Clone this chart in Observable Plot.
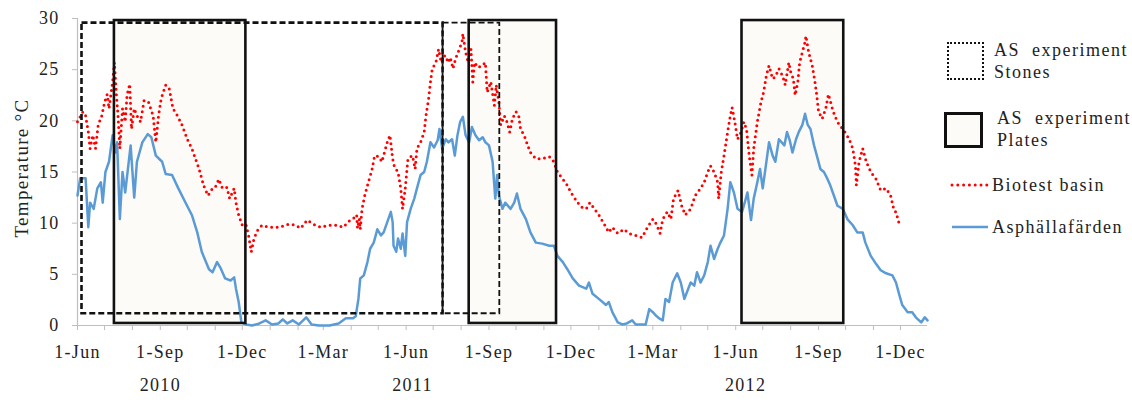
<!DOCTYPE html>
<html><head><meta charset="utf-8">
<script src="https://cdn.jsdelivr.net/npm/d3@7"></script>
<script src="https://cdn.jsdelivr.net/npm/@observablehq/plot@0.6"></script>
<style>
body{margin:0;background:#fff;}
#wrap{position:relative;width:1132px;height:404px;font-family:"Liberation Serif","Times New Roman",serif;color:#222;overflow:hidden;}
#chart svg text{letter-spacing:1.3px;}
.lt{position:absolute;font-size:18px;letter-spacing:1.5px;line-height:22px;white-space:nowrap;}
.box{position:absolute;box-sizing:border-box;}
.sw{position:absolute;}
</style></head><body>
<div id="wrap"><div id="chart"></div>
<div class="box" style="left:947px;top:42px;width:37px;height:38px;border:2.5px dotted #111;"></div>
<div class="lt" style="left:994px;top:39px;">AS&nbsp; experiment<br>Stones</div>
<div class="box" style="left:944px;top:112px;width:39px;height:36px;border:3px solid #111;background:#fcfbf8;"></div>
<div class="lt" style="left:997px;top:107px;">AS&nbsp; experiment<br>Plates</div>
<svg class="sw" style="left:950px;top:180px;" width="40" height="10"><line x1="2" x2="38" y1="5" y2="5" stroke="#ff0000" stroke-width="3" stroke-linecap="round" stroke-dasharray="0,5.8"/></svg>
<div class="lt" style="left:992px;top:174px;">Biotest basin</div>
<svg class="sw" style="left:950px;top:222px;" width="40" height="10"><line x1="2" x2="38" y1="5" y2="5" stroke="#5b9bd5" stroke-width="2.5"/></svg>
<div class="lt" style="left:992px;top:216px;">Asphällafärden</div>
</div>
<script>
// Asphällafärden (blue line) – [date, °C]
const asphallafarden = [
["2010-06-01",12.7],["2010-06-04",14.4],["2010-06-10",14.4],["2010-06-13",9.6],["2010-06-15",12.0],["2010-06-19",11.4],["2010-06-23",13.4],["2010-06-27",14.0],["2010-06-29",12.0],["2010-07-02",15.0],["2010-07-06",16.0],["2010-07-10",18.6],["2010-07-13",16.9],["2010-07-15",17.9],["2010-07-18",10.4],["2010-07-21",15.0],["2010-07-24",13.0],["2010-07-30",17.6],["2010-08-03",12.5],["2010-08-06",16.0],["2010-08-12",17.9],["2010-08-18",18.7],["2010-08-22",18.4],["2010-08-27",16.6],["2010-09-03",16.0],["2010-09-07",14.8],["2010-09-14",14.7],["2010-09-21",13.4],["2010-09-29",12.0],["2010-10-06",10.8],["2010-10-12",9.1],["2010-10-17",7.2],["2010-10-25",5.5],["2010-10-29",5.2],["2010-11-03",6.2],["2010-11-07",5.6],["2010-11-12",4.6],["2010-11-18",4.4],["2010-11-22",4.7],["2010-11-24",3.6],["2010-11-27",2.3],["2010-11-30",0.3],
["2010-12-05",0.1],["2010-12-12",0.0],["2010-12-20",0.2],["2010-12-27",0.5],["2011-01-03",0.1],["2011-01-10",0.2],["2011-01-15",0.6],["2011-01-20",0.2],["2011-01-26",0.5],["2011-02-02",0.1],["2011-02-10",0.8],["2011-02-16",0.1],["2011-02-24",0.0],["2011-03-08",0.0],["2011-03-18",0.2],["2011-03-26",0.7],["2011-04-03",0.7],["2011-04-06",0.9],
["2011-04-09",2.6],["2011-04-11",4.6],["2011-04-15",4.9],["2011-04-19",6.2],["2011-04-22",7.5],["2011-04-26",8.1],["2011-04-30",9.4],["2011-05-04",8.8],["2011-05-07",9.1],["2011-05-11",10.1],["2011-05-15",11.1],["2011-05-17",10.1],["2011-05-18",7.8],["2011-05-21",7.2],["2011-05-23",8.5],["2011-05-26",7.5],["2011-05-28",9.0],["2011-05-31",6.8],["2011-06-02",10.1],["2011-06-06",11.4],["2011-06-10",12.4],["2011-06-13",13.4],["2011-06-17",14.7],["2011-06-21",15.0],["2011-06-24",16.0],["2011-06-28",17.9],["2011-07-02",17.4],["2011-07-06",18.1],["2011-07-08",19.2],["2011-07-11",17.3],["2011-07-15",18.2],["2011-07-18",17.9],["2011-07-22",18.2],["2011-07-25",16.6],["2011-07-28",18.6],["2011-07-31",19.9],["2011-08-03",20.4],["2011-08-06",18.6],["2011-08-10",17.9],["2011-08-13",19.4],["2011-08-17",18.6],["2011-08-21",18.1],["2011-08-25",18.4],["2011-08-28",17.9],["2011-09-01",17.6],["2011-09-05",16.0],["2011-09-08",12.4],["2011-09-10",14.7],["2011-09-12",12.7],["2011-09-16",11.4],["2011-09-19",12.0],["2011-09-25",11.4],["2011-09-29",12.0],["2011-10-02",12.9],["2011-10-06",11.4],["2011-10-12",10.4],["2011-10-17",9.1],["2011-10-23",8.1],["2011-10-30",8.0],["2011-11-07",7.8],["2011-11-12",7.8],["2011-11-16",6.8],["2011-11-22",6.2],["2011-11-27",5.5],["2011-12-03",4.6],["2011-12-10",3.9],["2011-12-18",3.6],["2011-12-21",4.2],["2011-12-25",3.1],
["2012-01-01",2.6],["2012-01-09",2.0],["2012-01-12",2.3],["2012-01-16",1.3],["2012-01-22",0.3],["2012-01-27",0.1],["2012-02-01",0.2],["2012-02-07",0.5],["2012-02-11",0.1],["2012-02-22",0.1],["2012-02-26",1.6],["2012-03-01",1.3],["2012-03-04",1.0],["2012-03-08",0.7],["2012-03-12",0.5],["2012-03-15",2.6],["2012-03-19",2.3],["2012-03-23",4.2],["2012-03-28",5.1],["2012-04-01",4.2],["2012-04-05",2.6],["2012-04-08",3.3],["2012-04-12",4.2],["2012-04-16",3.9],["2012-04-19",5.2],["2012-04-23",4.2],["2012-04-27",4.9],["2012-05-01",6.2],["2012-05-04",7.8],["2012-05-08",6.5],["2012-05-12",7.5],["2012-05-15",8.1],["2012-05-19",8.8],["2012-05-23",11.4],["2012-05-26",14.0],["2012-05-30",13.0],["2012-06-03",11.4],["2012-06-08",11.1],["2012-06-11",12.0],["2012-06-14",13.0],["2012-06-18",10.3],["2012-06-21",12.4],["2012-06-25",14.0],["2012-06-28",15.3],["2012-07-01",13.4],["2012-07-04",15.3],["2012-07-08",17.9],["2012-07-12",16.6],["2012-07-15",16.0],["2012-07-19",18.2],["2012-07-25",17.6],["2012-07-28",18.9],["2012-07-31",18.1],["2012-08-03",16.9],["2012-08-07",18.2],["2012-08-10",18.9],["2012-08-14",19.6],["2012-08-17",20.7],["2012-08-20",19.6],["2012-08-23",19.2],["2012-08-27",17.6],["2012-08-31",16.3],["2012-09-03",15.3],["2012-09-07",15.0],["2012-09-11",14.3],["2012-09-14",13.7],["2012-09-18",12.7],["2012-09-22",11.7],["2012-09-28",11.4],["2012-10-03",10.4],["2012-10-09",9.8],["2012-10-14",9.1],["2012-10-20",9.1],["2012-10-23",8.1],["2012-10-29",6.8],["2012-11-04",6.0],["2012-11-09",5.4],["2012-11-15",5.1],["2012-11-22",4.9],["2012-11-26",4.2],["2012-11-30",2.9],["2012-12-03",2.0],["2012-12-09",1.3],["2012-12-14",1.3],["2012-12-18",0.8],["2012-12-24",0.3],["2012-12-28",0.8],["2012-12-31",0.5]
];
// Biotest basin (red dotted) – [date, °C]
const biotestBasin = [
["2010-06-01",19.9],["2010-06-07",20.9],["2010-06-10",20.5],["2010-06-13",18.9],["2010-06-15",17.3],["2010-06-18",18.6],["2010-06-21",17.3],["2010-06-24",19.6],["2010-06-28",20.5],["2010-07-01",21.8],["2010-07-04",22.6],["2010-07-06",21.2],["2010-07-10",23.8],["2010-07-12",25.7],["2010-07-14",22.8],["2010-07-16",20.5],["2010-07-18",17.3],["2010-07-21",21.2],["2010-07-24",19.9],["2010-07-26",22.5],["2010-07-29",23.6],["2010-07-31",19.2],["2010-08-03",21.2],["2010-08-06",20.5],["2010-08-10",19.9],["2010-08-14",22.0],["2010-08-19",21.8],["2010-08-24",20.5],["2010-08-27",17.9],["2010-08-30",20.5],["2010-09-02",22.2],["2010-09-07",23.5],["2010-09-11",23.1],["2010-09-15",21.2],["2010-09-20",20.5],["2010-09-25",19.6],["2010-10-01",18.2],["2010-10-06",17.3],["2010-10-10",16.3],["2010-10-14",15.3],["2010-10-19",13.7],["2010-10-24",12.7],["2010-10-29",13.4],["2010-11-01",13.5],["2010-11-05",14.3],["2010-11-09",13.4],["2010-11-14",13.5],["2010-11-17",12.4],["2010-11-22",13.4],["2010-11-24",12.0],["2010-11-27",10.8],["2010-12-01",9.8],["2010-12-05",9.9],["2010-12-08",8.8],["2010-12-11",7.2],["2010-12-14",8.5],["2010-12-18",9.3],["2010-12-23",9.8],["2010-12-31",9.6],
["2011-01-11",9.6],["2011-01-22",9.9],["2011-01-29",9.8],["2011-02-04",9.5],["2011-02-11",10.3],["2011-02-18",9.9],["2011-02-26",9.6],["2011-03-07",9.8],["2011-03-16",9.8],["2011-03-23",9.6],["2011-03-31",10.3],["2011-04-06",10.6],["2011-04-07",10.8],["2011-04-08",9.5],["2011-04-10",10.4],["2011-04-11",9.4],["2011-04-13",11.4],["2011-04-16",12.7],["2011-04-20",14.0],["2011-04-24",15.2],["2011-04-27",16.6],["2011-05-02",16.5],["2011-05-05",16.0],["2011-05-11",17.9],["2011-05-14",18.6],["2011-05-17",16.3],["2011-05-19",15.5],["2011-05-23",15.0],["2011-05-26",13.4],["2011-05-28",11.4],["2011-05-31",13.4],["2011-06-03",16.3],["2011-06-08",16.6],["2011-06-11",15.3],["2011-06-13",17.3],["2011-06-17",17.9],["2011-06-21",18.9],["2011-06-23",20.5],["2011-06-26",22.2],["2011-06-28",23.8],["2011-06-30",25.1],["2011-07-04",25.7],["2011-07-07",27.0],["2011-07-10",25.7],["2011-07-14",26.4],["2011-07-18",25.7],["2011-07-20",26.2],["2011-07-23",25.1],["2011-07-26",26.1],["2011-07-30",27.0],["2011-08-02",27.7],["2011-08-03",28.5],["2011-08-06",26.7],["2011-08-09",25.7],["2011-08-12",27.0],["2011-08-14",23.8],["2011-08-16",25.7],["2011-08-20",25.2],["2011-08-24",25.4],["2011-08-28",25.7],["2011-08-30",22.8],["2011-09-03",23.8],["2011-09-07",21.5],["2011-09-09",23.5],["2011-09-12",21.8],["2011-09-14",19.6],["2011-09-18",20.5],["2011-09-21",19.9],["2011-09-24",18.9],["2011-09-27",20.2],["2011-10-01",20.9],["2011-10-04",20.5],["2011-10-06",19.2],["2011-10-10",18.6],["2011-10-14",17.6],["2011-10-17",16.9],["2011-10-23",16.3],["2011-10-30",16.3],["2011-11-07",16.5],["2011-11-12",16.0],["2011-11-16",15.0],["2011-11-22",14.3],["2011-11-27",13.7],["2011-12-01",13.0],["2011-12-07",12.2],["2011-12-12",11.6],["2011-12-18",11.4],["2011-12-22",12.0],["2011-12-27",11.4],
["2012-01-01",10.8],["2012-01-07",9.9],["2012-01-12",9.1],["2012-01-16",9.6],["2012-01-22",9.0],["2012-01-29",9.4],["2012-02-03",9.0],["2012-02-11",8.8],["2012-02-18",8.6],["2012-02-24",9.6],["2012-03-01",10.4],["2012-03-05",9.9],["2012-03-09",9.0],["2012-03-12",10.4],["2012-03-17",11.1],["2012-03-21",10.4],["2012-03-24",12.4],["2012-03-29",13.2],["2012-04-02",11.7],["2012-04-06",10.8],["2012-04-12",11.4],["2012-04-17",12.7],["2012-04-23",13.4],["2012-04-27",14.0],["2012-05-01",15.0],["2012-05-04",15.6],["2012-05-08",15.0],["2012-05-12",14.0],["2012-05-13",12.4],["2012-05-16",15.0],["2012-05-19",16.6],["2012-05-23",18.9],["2012-05-26",20.5],["2012-05-28",21.3],["2012-05-31",19.9],["2012-06-03",18.2],["2012-06-07",18.9],["2012-06-10",19.9],["2012-06-13",19.2],["2012-06-16",16.6],["2012-06-19",14.7],["2012-06-21",17.3],["2012-06-25",19.9],["2012-06-29",21.8],["2012-07-02",22.8],["2012-07-05",24.4],["2012-07-08",25.4],["2012-07-12",24.1],["2012-07-15",24.3],["2012-07-19",25.1],["2012-07-23",24.4],["2012-07-26",23.5],["2012-07-30",25.7],["2012-08-01",24.8],["2012-08-04",24.1],["2012-08-06",22.5],["2012-08-09",23.8],["2012-08-11",25.7],["2012-08-14",26.7],["2012-08-17",27.7],["2012-08-18",28.3],["2012-08-21",26.7],["2012-08-25",25.4],["2012-08-28",23.8],["2012-08-30",22.5],["2012-09-01",20.9],["2012-09-05",20.2],["2012-09-09",21.2],["2012-09-12",22.6],["2012-09-16",21.3],["2012-09-19",20.5],["2012-09-24",19.6],["2012-09-29",19.1],["2012-10-05",18.2],["2012-10-09",17.3],["2012-10-12",15.6],["2012-10-13",13.7],["2012-10-16",16.0],["2012-10-20",17.3],["2012-10-24",16.0],["2012-10-29",15.0],["2012-11-04",14.3],["2012-11-09",13.2],["2012-11-15",13.4],["2012-11-20",12.7],["2012-11-24",11.2],["2012-11-26",11.1],["2012-11-30",9.8]
];
// Experiment periods
const platesStart = ["2010-07-12","2011-08-10","2012-06-08"];
const platesEnd   = ["2010-12-05","2011-11-15","2012-09-29"];
const platesLow = 0.2, platesHigh = 29.8;
const stonesStart = ["2010-06-06","2011-07-12"];
const stonesEnd   = ["2011-07-12","2011-09-13"];
const stonesLow = 1.15, stonesHigh = 29.55;
// Axes
const xDomain = ["2010-06-01","2012-12-31"];
const xLabelTicks = ["2010-06-01","2010-09-01","2010-12-01","2011-03-01","2011-06-01","2011-09-01","2011-12-01","2012-03-01","2012-06-01","2012-09-01","2012-12-01"];
const yTicks = [0,5,10,15,20,25,30];
const yearLabels = ["2010","2011","2012"];
const yearDates = ["2010-09-01","2011-06-08","2012-06-12"];
const yLabel = "Temperature °C";

const D = s => new Date(s);
const blue = asphallafarden.map(([d,v]) => ({date: D(d), v}));
const red = biotestBasin.map(([d,v]) => ({date: D(d), v}));
const plates = platesStart.map((s,i) => ({s: D(s), e: D(platesEnd[i]), lo: platesLow, hi: platesHigh}));
const stones = stonesStart.map((s,i) => ({s: D(s), e: D(stonesEnd[i]), lo: stonesLow, hi: stonesHigh}));
const monthTicks = d3.utcMonth.range(D(xDomain[0]), d3.utcDay.offset(D(xDomain[1]), 1));

const chart = Plot.plot({
  width: 1132, height: 404,
  marginLeft: 77, marginRight: 205, marginTop: 18, marginBottom: 79,
  style: {fontFamily: '"Liberation Serif","Times New Roman",serif', fontSize: "18px", color: "#222", background: "white", overflow: "visible"},
  x: {type: "utc", domain: xDomain.map(D), label: null},
  y: {domain: [0, 30], label: null},
  marks: [
    Plot.rect(plates, {x1: "s", x2: "e", y1: "lo", y2: "hi", fill: "#fcfbf8"}),
    Plot.ruleY([0], {stroke: "#bfbfbf", strokeWidth: 1.2}),
    Plot.ruleX([D(xDomain[0])], {stroke: "#bfbfbf", strokeWidth: 1.2}),
    Plot.axisY({ticks: yTicks, tickSize: 5, tickPadding: 13, stroke: "#bfbfbf", fill: "#222", fontSize: 18, label: null}),
    Plot.axisX({ticks: monthTicks, tickSize: 5, tickFormat: () => "", stroke: "#bfbfbf", label: null}),
    Plot.axisX({ticks: xLabelTicks.map(D), tickSize: 0, tickPadding: 20, tickFormat: d3.utcFormat("%-d-%b"), fill: "#222", fontSize: 18, label: null}),
    Plot.line(blue, {x: "date", y: "v", stroke: "#5b9bd5", strokeWidth: 2.5, strokeLinejoin: "round"}),
    Plot.line(red, {x: "date", y: "v", stroke: "#ff0000", strokeWidth: 3, strokeLinecap: "round", strokeDasharray: "0,5.5"}),
    Plot.rect(stones.slice(0,1), {x1: "s", x2: "e", y1: "lo", y2: "hi", fill: "none", stroke: "#111", strokeWidth: 2.6, strokeDasharray: "6,3"}),
    Plot.rect(stones.slice(1), {x1: "s", x2: "e", y1: "lo", y2: "hi", fill: "none", stroke: "#111", strokeWidth: 1.8, strokeDasharray: "6,3"}),
    Plot.rect(plates, {x1: "s", x2: "e", y1: "lo", y2: "hi", fill: "none", stroke: "#111", strokeWidth: 2.6}),
    Plot.text(yearLabels, {x: (d,i) => D(yearDates[i]), text: d => d, frameAnchor: "bottom", dy: 65, fontSize: 18, fill: "#222"}),
    Plot.text([yLabel], {text: d => d, frameAnchor: "left", textAnchor: "middle", rotate: -90, dx: -56, dy: -4, fontSize: 19, fill: "#222"})
  ]
});
document.getElementById("chart").appendChild(chart);
</script>
</body></html>
